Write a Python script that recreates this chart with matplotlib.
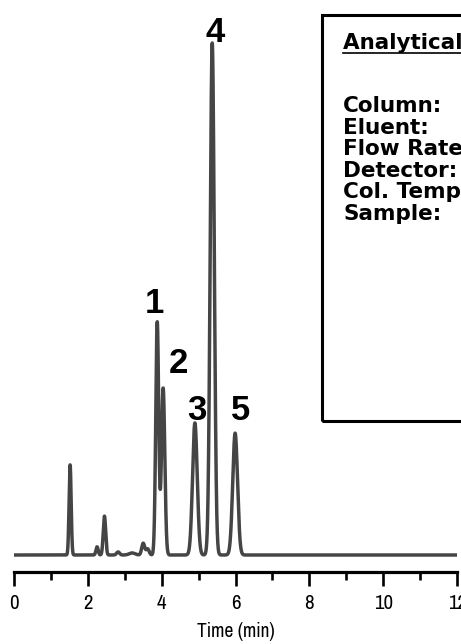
import matplotlib.pyplot as plt
from matplotlib import font_manager
from matplotlib.patches import Rectangle
from matplotlib.lines import Line2D
import numpy as np

tiempos = [1.52, 2.25, 2.45, 2.82, 3.20, 3.50, 3.62, 3.88, 4.04, 4.90, 5.37, 5.99]
alturas = [17.6, 1.6, 7.6, 0.6, 0.4, 2.3, 1.2, 45.5, 32.6, 25.8, 100.0, 23.8]
sigmas = [0.028, 0.03, 0.033, 0.04, 0.08, 0.04, 0.04, 0.04, 0.045, 0.063, 0.055, 0.065]

etiquetas = ['1', '2', '3', '4', '5']
indices_etiqueta = [7, 8, 9, 10, 11]

titulo_cuadro = 'Analytical Conditions'
condiciones = ['Column:', 'Eluent:', 'Flow Rate:', 'Detector:', 'Col. Temp.:', 'Sample:']


def primera_fuente(candidatas):
    instaladas = set(f.name for f in font_manager.fontManager.ttflist)
    for c in candidatas:
        if c in instaladas:
            return [c, 'DejaVu Sans']
    return ['DejaVu Sans']


fuente_eje = primera_fuente(['Liberation Sans Narrow', 'Arial Narrow', 'Archivo Narrow',
                             'PT Sans Narrow', 'Roboto Condensed', 'Open Sans Condensed'])
fuente_picos = primera_fuente(['Liberation Sans', 'Arimo'])
fuente_cuadro = ['DejaVu Sans']

t = np.linspace(0, 12, 6001)
senal = np.zeros_like(t)
for tr, h, s in zip(tiempos, alturas, sigmas):
    senal += h * np.exp(-0.5 * ((t - tr) / s) ** 2)

fig = plt.figure(figsize=(4.61, 6.44), dpi=100)
ax = fig.add_axes([14 / 461, 1 - 572 / 644, 443 / 461, 572 / 644])
ax.plot(t, senal, color='#454545', lw=2.5, solid_joinstyle='round')

ax.set_xlim(0, 12)
ax.set_ylim(-3.32, 108.4)
for lado in ['left', 'right', 'top']:
    ax.spines[lado].set_visible(False)
ax.spines['bottom'].set_linewidth(2.3)
ax.set_yticks([])
ax.set_xticks(range(0, 13, 2))
ax.set_xticks(range(1, 12, 2), minor=True)
ax.tick_params(axis='x', which='major', length=10, width=1.9, pad=6)
ax.tick_params(axis='x', which='minor', length=5.5, width=1.9)
for lbl in ax.get_xticklabels():
    lbl.set_family(fuente_eje)
    lbl.set_fontsize(15)
ax.set_xlabel('Time (min)', family=fuente_eje, fontsize=14, labelpad=6)

# numeros de los picos
desplazamientos = [(-0.07, 1.8), (0.42, 3.0), (0.05, 0.6), (0.08, 0.2), (0.16, 2.6)]
for et, i, (dx, dy) in zip(etiquetas, indices_etiqueta, desplazamientos):
    ax.text(tiempos[i] + dx, alturas[i] + dy, et, ha='center', va='baseline',
            family=fuente_picos, fontsize=25, fontweight='bold')

# recuadro de condiciones
fig.patches.append(Rectangle((322 / 461, 1 - 421 / 644), 0.5, 406 / 644,
                             transform=fig.transFigure, fill=False,
                             edgecolor='black', lw=2.2))
x0 = 343 / 461
fig.text(x0, 1 - 49 / 644, titulo_cuadro, family=fuente_cuadro,
         fontsize=15.5, fontweight='bold', va='baseline')
fig.lines.append(Line2D([x0, 1.2], [1 - 53 / 644, 1 - 53 / 644],
                        transform=fig.transFigure, color='black', lw=1.2))
for k, c in enumerate(condiciones):
    fig.text(x0, 1 - (112 + 21.6 * k) / 644, c, family=fuente_cuadro,
             fontsize=15.5, fontweight='bold', va='baseline')

plt.savefig('out.png', dpi=100)
